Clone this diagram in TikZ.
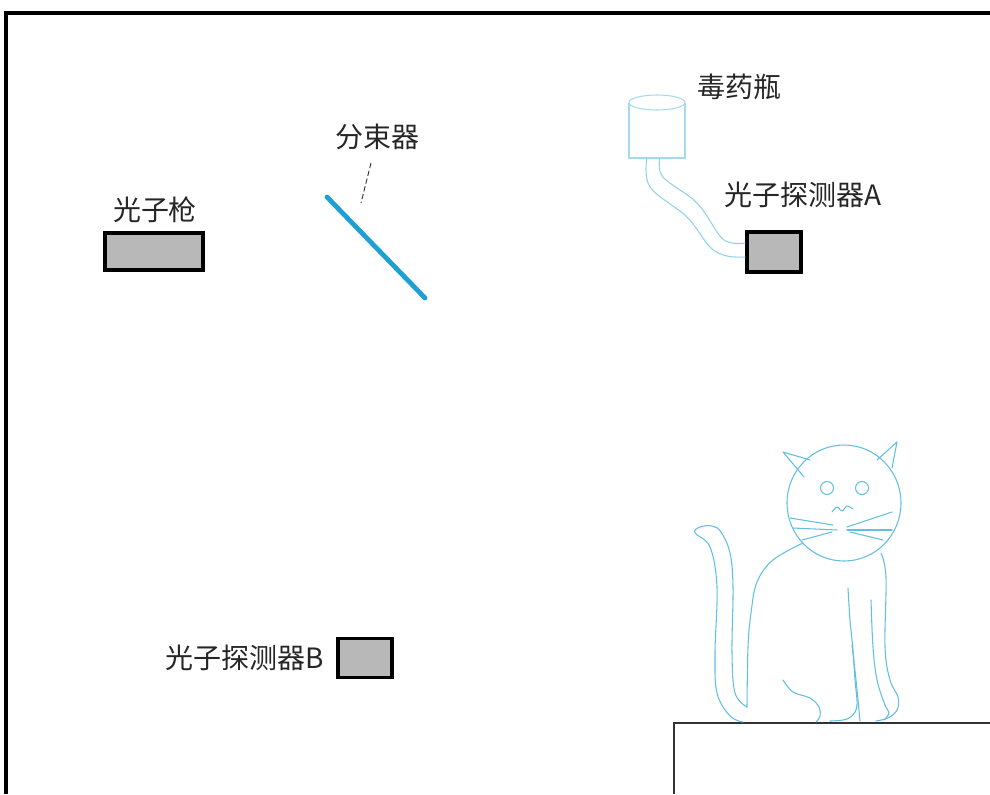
\documentclass[tikz,border=0pt]{standalone}
\usepackage{fontspec}
\newfontfamily\cjk{Noto Sans CJK SC}
\usetikzlibrary{calc}
\definecolor{boxgray}{HTML}{B8B8B8}
\definecolor{beam}{HTML}{1E9FD6}
\definecolor{sketch}{HTML}{62BFE0}
\definecolor{pale}{HTML}{A6D9EC}
\begin{document}
\begin{tikzpicture}[x=0.75pt,y=-0.75pt,
  device/.style={draw=black,line width=2.6pt,fill=boxgray,inner sep=0pt},
  caption/.style={font=\cjk\fontsize{21}{24}\selectfont,text=black!85,inner sep=0pt},
  catline/.style={draw=sketch,line width=0.8pt,line cap=round,line join=round},
  glass/.style={draw=pale,line width=0.8pt},
  frame/.style={draw=black,line width=2.7pt},
  beamline/.style={draw=beam,line width=3.6pt,line cap=round},
  leader/.style={draw=black!80,line width=0.7pt,dash pattern=on 4pt off 2pt}]
\useasboundingbox (0,0) rectangle (990,794);

% outer frame and table
\draw[frame] (6,794) -- (6,13) -- (990,13);
\draw[draw=black!80,line width=1.5pt] (674,794) -- (674,723) -- (990,723);

% devices
\node[device,minimum width=73.5pt,minimum height=27.75pt] (gun) at (154,251.5) {};
\node[device,minimum width=40.5pt,minimum height=30pt] (detA) at (774,252) {};
\node[device,minimum width=40.5pt,minimum height=29pt] (detB) at (365,658) {};

% labels
\node[caption] (gunlabel) at (155,210) {光子枪};
\node[caption] (bslabel) at (377,137) {分束器};
\node[caption] (poisonlabel) at (739,87) {毒药瓶};
\node[caption] (detAlabel) at (803,195) {光子探测器A};
\node[caption] (detBlabel) at (245,658) {光子探测器B};

% beam splitter and its leader
\coordinate (bs1) at (327,197);
\coordinate (bs2) at (425,298);
\draw[beamline] (bs1) -- (bs2);
\coordinate (ld1) at (371,163);
\coordinate (ld2) at (361,203);
\draw[leader] (ld1) -- (ld2);

% poison bottle
\draw[glass] (657,102.5) ellipse [x radius=28, y radius=7.5];
\draw[glass] (629,102.5) -- (629,158) -- (685,158) -- (685,102.5);

% tube from bottle to detector A
\coordinate (tubeL) at (647,158);
\coordinate (tubeR) at (660,158);
\draw[glass,draw=sketch!70] plot[smooth,tension=0.6] coordinates
  {(tubeL) (650,187) (687,217) (710,247) (727,256) ($(detA.west)+(0,5)$)};
\draw[glass,draw=sketch!70] plot[smooth,tension=0.6] coordinates
  {(tubeR) (663,177) (697,203) (720,236) (732,243) ($(detA.west)+(0,-9)$)};

% cat: head
\draw[catline] (844,503) ellipse [x radius=57, y radius=58];
\draw[catline] (827,488) circle [radius=6.5];
\draw[catline] (862,488) circle [radius=6.5];
% ears
\draw[catline] (810,460) -- (783,452) -- (804,477);
\draw[catline] (877,460) -- (897,442) -- (892,468);
% mouth
\draw[catline] plot[smooth,tension=0.5] coordinates
  {(832,512) (837,507) (842,511) (847,506) (853,509)};
% whiskers
\draw[catline] (790,518) -- (833,525);
\draw[catline] (793,528) -- (837,530);
\draw[catline] (802,540) -- (832,532);
\draw[catline] (847,527) -- (892,512);
\draw[catline] (847,530) -- (892,530);
\draw[catline] (850,532) -- (883,540);
% body left side and tail
\draw[catline] plot[smooth,tension=0.6] coordinates
  {(803,543) (773,560) (757,582) (751,613) (748,647) (747,707)};
\draw[catline] plot[smooth,tension=0.6] coordinates
  {(747,707) (735,693) (732,653) (733,587) (730,553) (721,532) (712,526)
   (700,527) (695,533) (710,547) (717,587) (715,653) (717,693) (730,716) (743,722)};
% body right side
\draw[catline] plot[smooth,tension=0.6] coordinates
  {(881,553) (886,577) (885,647) (890,680) (898,697) (897,710) (888,718) (876,721)};
% haunch
\draw[catline] plot[smooth,tension=0.6] coordinates
  {(783,680) (793,692) (810,698) (819,707) (820,716) (816,722)};
% front legs
\draw[catline] plot[smooth,tension=0.6] coordinates
  {(848,588) (850,620) (853,650) (855,680) (857,705) (852,716) (843,720) (830,721)};
\draw[catline] plot[smooth,tension=0.6] coordinates
  {(852,645) (856,680) (860,721)};
\draw[catline] plot[smooth,tension=0.6] coordinates
  {(871,600) (873,647) (877,680) (885,705) (889,713) (884,720)};
\end{tikzpicture}
\end{document}
